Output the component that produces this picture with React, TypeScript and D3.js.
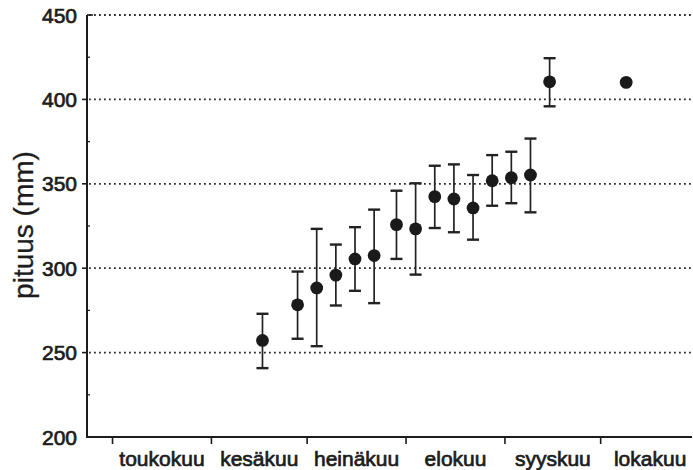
import React from "react";
import * as d3 from "d3";

const YEAR = 1990;
const monthLabels = ["toukokuu", "kesäkuu", "heinäkuu", "elokuu", "syyskuu", "lokakuu"];
const monthStarts = ["05-01", "06-01", "07-01", "08-01", "09-01", "10-01", "11-01"];
const sampleDates = ["06-17", "06-28", "07-04", "07-10", "07-16", "07-22", "07-29", "08-04", "08-10", "08-16", "08-22", "08-28", "09-03", "09-09", "09-15", "10-09"];
const meanLength = [257.2, 278.3, 288.3, 295.9, 305.5, 307.5, 325.8, 323.3, 342.4, 341, 335.7, 351.8, 353.6, 355.2, 410.4, 410.1];
const upperLength = [273, 298, 323.3, 314, 324.3, 334.7, 345.9, 350.3, 360.7, 361.5, 355.2, 367, 369, 376.8, 424.4, null];
const lowerLength = [240.8, 258.2, 253.8, 277.9, 286.6, 279.3, 305.5, 296.2, 323.8, 321.3, 316.9, 337, 338.5, 333.1, 395.9, null];
const yTicks = [200, 250, 300, 350, 400, 450];
const yMinorTicks = [225, 275, 325, 375, 425];
const yLabel = "pituus (mm)";

const toDate = (md: string) => {
  const [m, d] = md.split("-").map(Number);
  return new Date(Date.UTC(YEAR, m - 1, d));
};

export default function App() {
  const W = 693, H = 470;
  const x = d3.scaleUtc().domain([toDate("04-23"), toDate("10-29")]).range([87, 690]);
  const y = d3.scaleLinear().domain([200, 450]).range([437, 15]);
  const font = "'Liberation Sans', Arial, Helvetica, sans-serif";
  const ink = "#1c1c1c";
  const tickXs = monthStarts.slice(0, 6).map((m) => x(toDate(m)));
  const labelXs = monthLabels.map((_, i) => (x(toDate(monthStarts[i])) + x(toDate(monthStarts[i + 1]))) / 2);

  return (
    <svg width={W} height={H} style={{ position: "absolute", left: 0, top: 0, background: "#fff" }} fontFamily={font}>
      {/* gridlines */}
      {yTicks.filter((t) => t > 200).map((t) => (
        <line key={"g" + t} x1={89} x2={691} y1={y(t)} y2={y(t)} stroke="#2a2a2a" strokeWidth={1.8} strokeDasharray="1.8 3.2" />
      ))}
      {/* y axis */}
      <line x1={87} x2={87} y1={y(450)} y2={y(200)} stroke={ink} strokeWidth={2} />
      <line x1={87} x2={93} y1={y(450)} y2={y(450)} stroke={ink} strokeWidth={1.6} />
      {yTicks.filter((t) => t > 200 && t < 450).map((t) => (
        <line key={"yt" + t} x1={82} x2={87} y1={y(t)} y2={y(t)} stroke={ink} strokeWidth={1.6} />
      ))}
      {yMinorTicks.map((t) => (
        <line key={"ym" + t} x1={87} x2={90} y1={y(t)} y2={y(t)} stroke={ink} strokeWidth={1.2} />
      ))}
      {yTicks.map((t) => (
        <text key={"yl" + t} x={77} y={y(t)} dy="0.36em" textAnchor="end" fontSize={21} fill={ink} stroke={ink} strokeWidth={0.7}>
          {t}
        </text>
      ))}
      <text transform={`translate(33,225) rotate(-90)`} textAnchor="middle" fontSize={28} fill={ink} stroke={ink} strokeWidth={0.3}>
        {yLabel}
      </text>
      {/* x axis */}
      <line x1={86} x2={692} y1={y(200)} y2={y(200)} stroke={ink} strokeWidth={2} />
      {tickXs.map((tx, i) => (
        <line key={"xt" + i} x1={tx} x2={tx} y1={y(200)} y2={y(200) + 7} stroke={ink} strokeWidth={1.6} />
      ))}
      {monthLabels.map((m, i) => (
        <text key={"xl" + i} x={labelXs[i]} y={466} textAnchor="middle" fontSize={21} fill={ink} stroke={ink} strokeWidth={0.7}>
          {m}
        </text>
      ))}
      {/* error bars and points */}
      {sampleDates.map((d, i) => {
        const cx = x(toDate(d));
        const up = upperLength[i];
        const lo = lowerLength[i];
        return (
          <g key={"p" + i}>
            {up != null && lo != null && (
              <g stroke="#222">
                <line x1={cx} x2={cx} y1={y(up)} y2={y(lo)} strokeWidth={1.7} />
                <line x1={cx - 6} x2={cx + 6} y1={y(up)} y2={y(up)} strokeWidth={2.4} />
                <line x1={cx - 6} x2={cx + 6} y1={y(lo)} y2={y(lo)} strokeWidth={2.4} />
              </g>
            )}
            <circle cx={cx} cy={y(meanLength[i])} r={6.4} fill="#1a1a1a" />
          </g>
        );
      })}
    </svg>
  );
}
